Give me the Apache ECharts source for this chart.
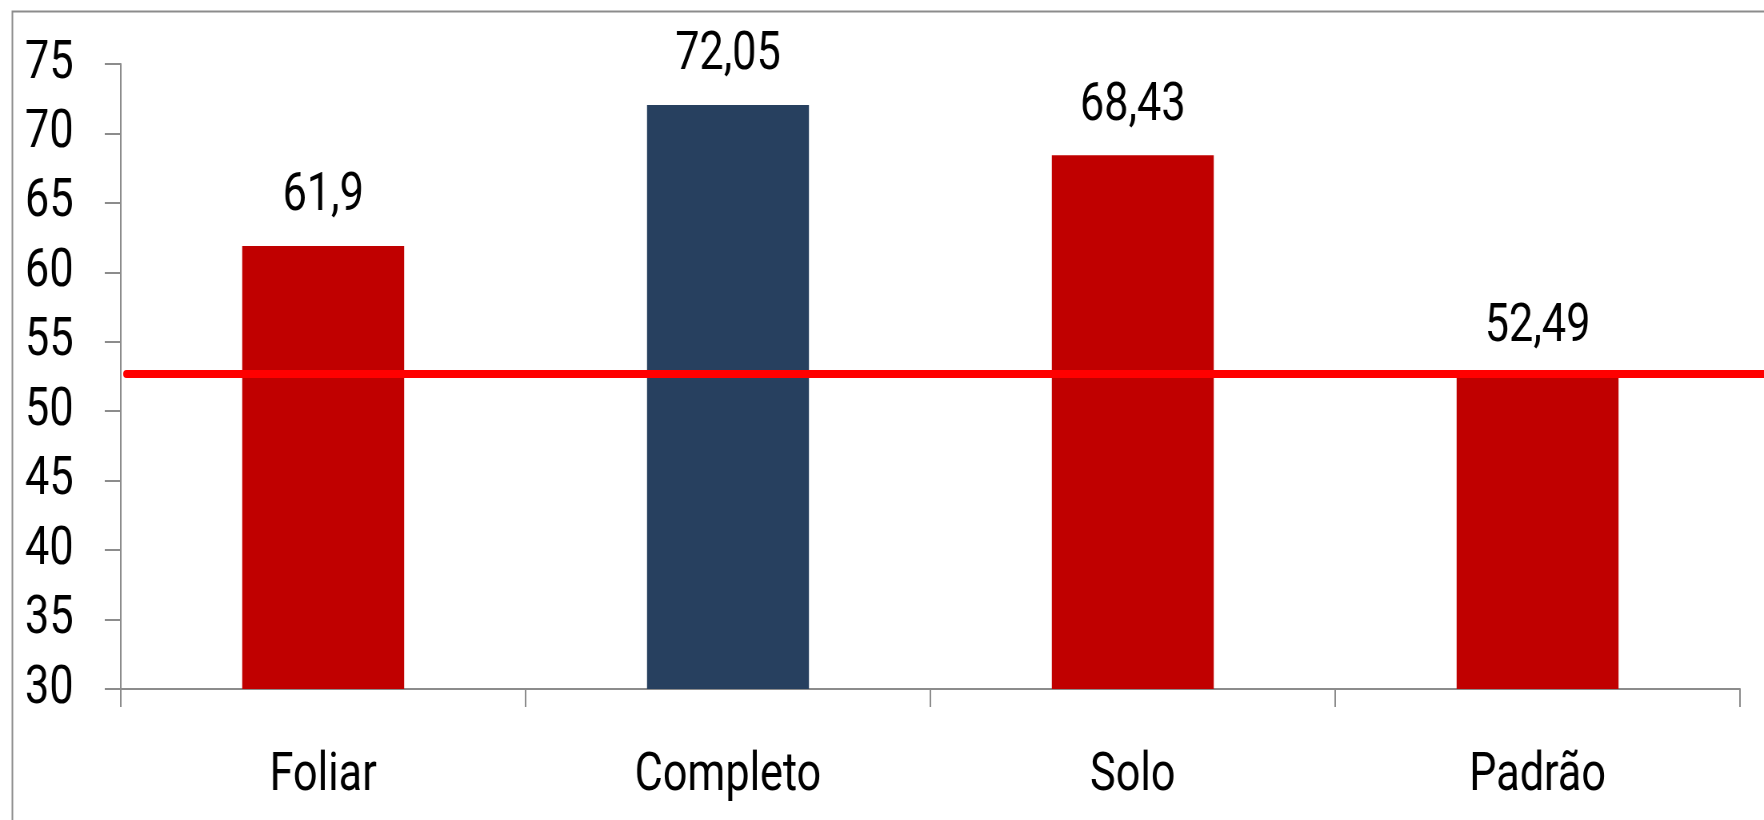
<!DOCTYPE html>
<html><head><meta charset="utf-8">
<script src="https://cdn.jsdelivr.net/npm/echarts@6/dist/echarts.min.js"></script>
<style>
html,body{margin:0;padding:0;background:#fff;overflow:hidden;width:1764px;height:820px}
#c{width:2205px;height:820px;transform:scaleX(0.8);transform-origin:0 0}
</style>
</head><body><div id="c"></div>
<script>
const categories = ['Foliar', 'Completo', 'Solo', 'Padrão'];
const values = [61.9, 72.05, 68.43, 52.49];
const barColors = ['#C00000', '#27405F', '#C00000', '#C00000'];
const refLineValue = 52.68;
const refLinePoints = [[0, refLineValue], [1, refLineValue]];
const yTicks = { min: 30, max: 75, interval: 5 };

const FONT = 'Roboto, "Noto Sans", sans-serif';
const AX = '#8c8c8c';
const chart = echarts.init(document.getElementById('c'));
chart.setOption({
  animation: false,
  backgroundColor: '#fff',
  graphic: [{
    type: 'rect', left: 13, top: 9, silent: true,
    shape: { width: 2400, height: 1000 },
    style: { fill: 'none', stroke: AX, lineWidth: 2 }
  }],
  grid: [
    { left: 151, right: 30, top: 64, bottom: 131 },
    { left: 158, right: 0, top: 64, bottom: 131 }
  ],
  xAxis: [{
    type: 'category', data: categories, gridIndex: 0,
    axisLine: { lineStyle: { color: AX, width: 2 } },
    axisTick: { show: true, length: 18, lineStyle: { color: AX, width: 2 } },
    axisLabel: { color: '#000', fontFamily: FONT, fontSize: 54, margin: 60 }
  }, {
    type: 'value', gridIndex: 1, min: 0, max: 1, show: false
  }],
  yAxis: [{
    type: 'value', gridIndex: 0, min: yTicks.min, max: yTicks.max, interval: yTicks.interval,
    splitLine: { show: false },
    axisLine: { show: true, lineStyle: { color: AX, width: 2 } },
    axisTick: { show: true, length: 20, lineStyle: { color: AX, width: 2 } },
    axisLabel: { color: '#000', fontFamily: FONT, fontSize: 54, margin: 59 }
  }, {
    type: 'value', gridIndex: 1, min: yTicks.min, max: yTicks.max, show: false
  }],
  series: [{
    type: 'bar', barWidth: '40%', xAxisIndex: 0, yAxisIndex: 0,
    data: values.map((v, i) => ({ value: v, itemStyle: { color: barColors[i] } })),
    label: {
      show: true, position: 'top', distance: 22, color: '#000',
      fontFamily: FONT, fontSize: 54,
      formatter: p => String(p.value).replace('.', ',')
    }
  }, {
    type: 'line', xAxisIndex: 1, yAxisIndex: 1, data: refLinePoints,
    symbol: 'none', lineStyle: { color: '#FF0000', width: 8, cap: 'round' }, z: 5
  }]
});
</script></body></html>
